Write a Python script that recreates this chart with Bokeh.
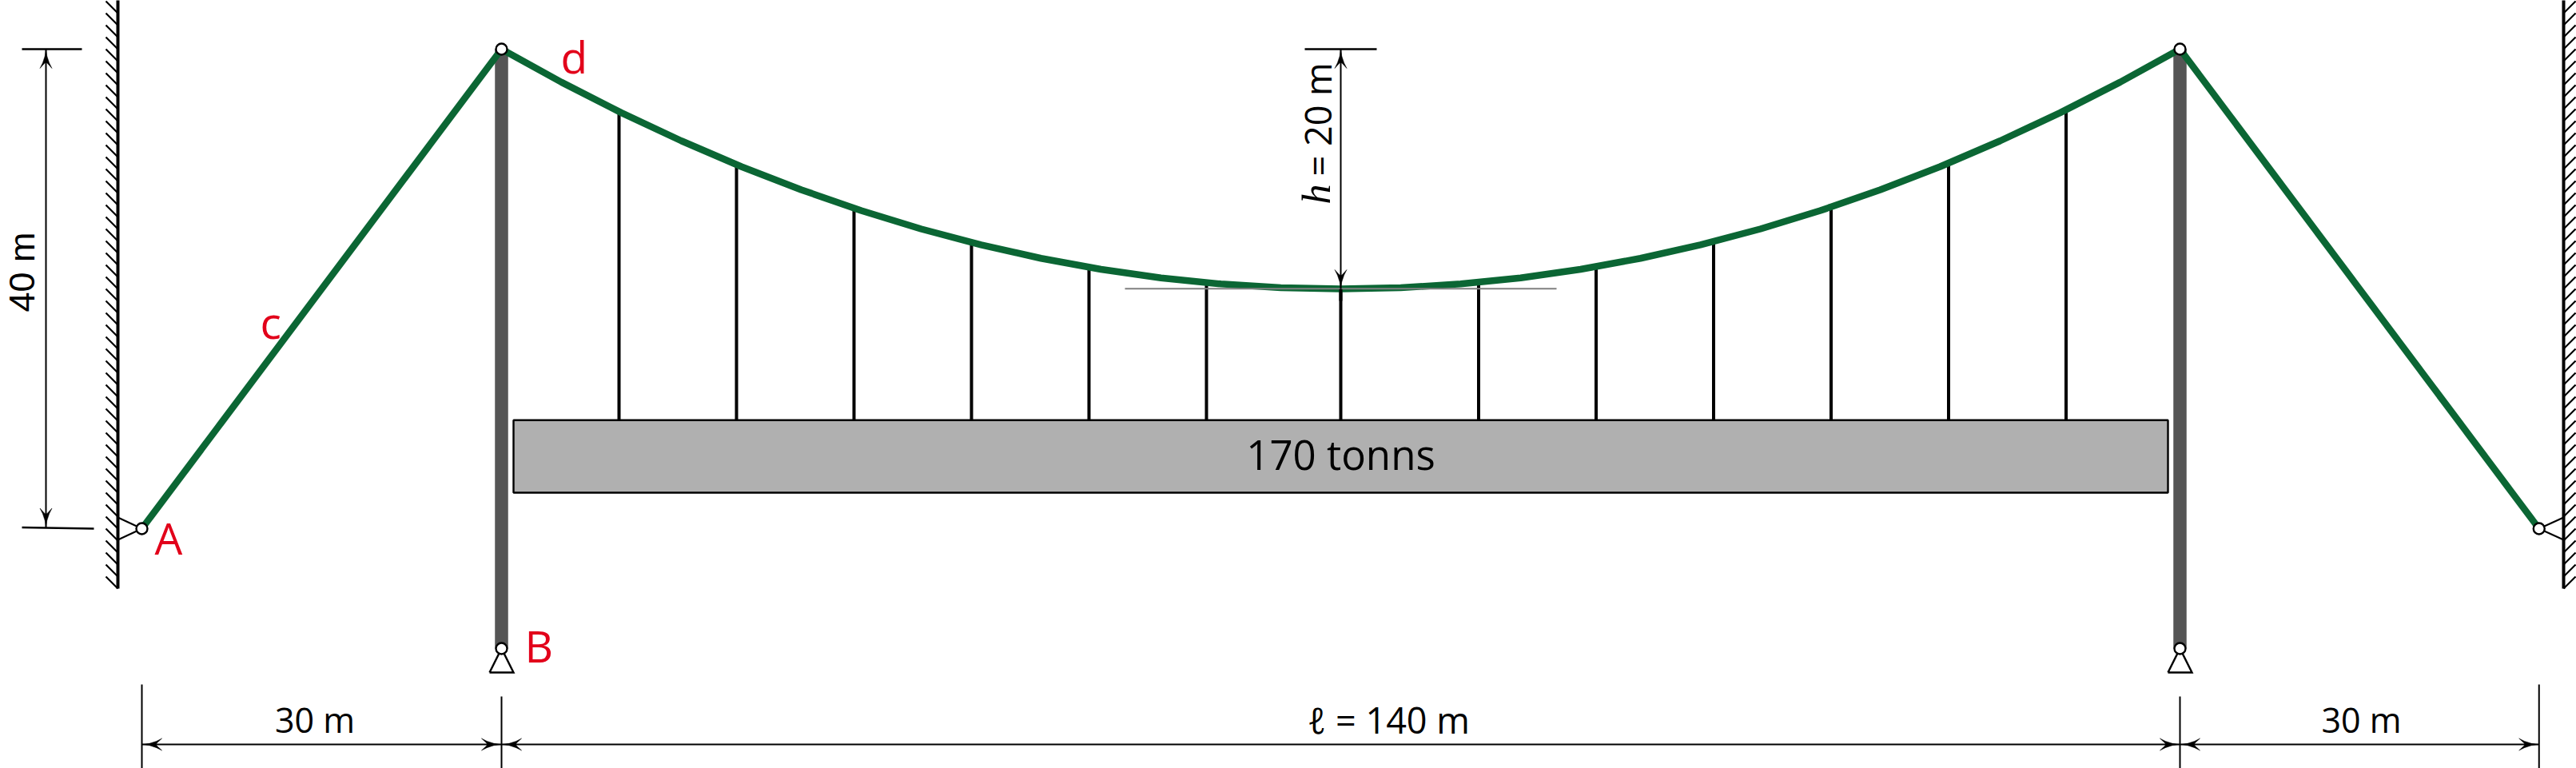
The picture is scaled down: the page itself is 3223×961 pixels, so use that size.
import math
from bokeh.plotting import figure
from bokeh.models import Range1d
from bokeh.core.properties import value
from bokeh.embed import file_html
from bokeh.resources import INLINE

# ---- data (metres; origin at anchor A) ----
cable_left_x = [0, 30]
cable_left_y = [0, 40]
cable_right_x = [170, 199.95]
cable_right_y = [40, 0]
main_x = [30, 35, 40, 45, 50, 55, 60, 65, 70, 75, 80, 85, 90, 95, 100,
          105, 110, 115, 120, 125, 130, 135, 140, 145, 150, 155, 160, 165, 170]
main_y = [40, 37.24, 34.69, 32.35, 30.20, 28.27, 26.53, 25.0, 23.67, 22.55, 21.63, 20.92, 20.41, 20.10, 20,
          20.10, 20.41, 20.92, 21.63, 22.55, 23.67, 25.0, 26.53, 28.27, 30.20, 32.35, 34.69, 37.24, 40]
hanger_x = [39.8, 49.6, 59.4, 69.2, 79, 88.8, 100, 111.5, 121.3, 131.1, 140.9, 150.7, 160.5]
hanger_top = [34.79, 30.37, 26.73, 23.87, 21.8, 20.51, 20, 20.54, 21.85, 23.95, 26.83, 30.49, 34.94]
deck_top = 9.05
deck_bottom = 3.0
deck_left = 31.0
deck_right = 169.0
tower_x = [30, 170]
tower_top = 40
tower_base = -10
wall_x = [-2, 202]
wall_bottom = -5
wall_top = 44.6
span_ticks = [0, 30, 170, 199.95]
dim_y = -18
h_dim_x = 100
h_dim_low = 20
h_dim_high = 40
height_dim_x = -8
deck_label = "170 tonns"
span_labels = ["30 m", "\u2113 = 140 m", "30 m"]

# ---- figure: 15 px per metre ----
PXM = 15.0
W, H = 3223, 961
p = figure(width=W, height=H, output_backend="svg", toolbar_location=None,
           x_range=Range1d((0 - 177) / PXM, (3223 - 177) / PXM),
           y_range=Range1d((661 - 961) / PXM, (661 - 0) / PXM),
           min_border=0, min_border_left=0, min_border_right=0,
           min_border_top=0, min_border_bottom=0)
p.xaxis.visible = False
p.yaxis.visible = False
p.grid.visible = False
p.outline_line_color = None
p.background_fill_color = "white"
p.border_fill_color = "white"

GREEN = "#0b6634"
GREY = "#555555"
RED = "#e2001a"
FONT = value("Open Sans")

def arrow_head(tip_x, tip_y, dx, dy):
    """Barbed head; (dx, dy) points towards the tip."""
    L, W_ = 24 / PXM, 7.5 / PXM
    nx, ny = -dy, dx
    shape = [(0, 0), (0.35 * L, 0.16 * W_), (0.72 * L, 0.55 * W_), (L, W_), (0.72 * L, 0.18 * W_),
             (0.72 * L, -0.18 * W_), (L, -W_), (0.72 * L, -0.55 * W_), (0.35 * L, -0.16 * W_)]
    xs = [tip_x - a * dx + b * nx for a, b in shape]
    ys = [tip_y - a * dy + b * ny for a, b in shape]
    p.patch(xs, ys, fill_color="black", line_color="black", line_width=0.5)

def line(x0, y0, x1, y1, w=2, color="black", cap="butt"):
    p.segment([x0], [y0], [x1], [y1], line_width=w, line_color=color, line_cap=cap)

# walls with hatching
for i, wx in enumerate(wall_x):
    s = -1 if i == 0 else 1
    n = int(wall_top - wall_bottom)
    p.segment([wx] * n, [wall_bottom + k for k in range(n)],
              [wx + s] * n, [wall_bottom + k + 1 for k in range(n)],
              line_width=2.2, line_color="black")
    line(wx, wall_top, wx, wall_bottom, w=4)

# wall supports
line(0, 0, -2, 0.93, 2.2)
line(0, 0, -2, -0.93, 2.2)
line(199.95, 0, 202, 0.93, 2.2)
line(199.95, 0, 202, -0.93, 2.2)

# deck
p.quad(left=[deck_left], right=[deck_right], top=[deck_top], bottom=[deck_bottom],
       fill_color="#b0b0b0", line_color="black", line_width=2.4)
# hangers
p.segment(hanger_x, hanger_top, hanger_x, [deck_top] * len(hanger_x), line_width=4, line_color="black")

# towers
for tx in tower_x:
    p.segment([tx], [tower_top], [tx], [tower_base], line_width=16.5, line_color=GREY)
    p.line([tx - 1, tx, tx + 1, tx - 1], [tower_base - 2, tower_base, tower_base - 2, tower_base - 2],
           line_width=2.4, line_color="black", line_join="miter")

# cables
for xs, ys in ((cable_left_x, cable_left_y), (cable_right_x, cable_right_y), (main_x, main_y)):
    p.line(xs, ys, line_width=8.5, line_color=GREEN, line_join="round", line_cap="butt")

# reference line under the sag
line(82, 20.02, 118, 20.02, 2, "#808080")
# central hanger sits above the reference line
line(100, 19.98, 100, 19.0, 4)

# joints
p.scatter([0, 199.95, 30, 170, 30, 170], [0, 0, 40, 40, -10, -10], size=14, marker="circle",
          fill_color="white", line_color="black", line_width=2.4)

# height dimension at left
line(height_dim_x, 40, height_dim_x, 0.1, 2)
line(-10, 40, -5, 40, 2.4)
line(-10, 0.1, -4, 0, 2.4)
arrow_head(height_dim_x, 40, 0, 1)
arrow_head(height_dim_x, 0.1, 0, -1)

# sag dimension
line(h_dim_x, h_dim_high, h_dim_x, h_dim_low, 2)
line(h_dim_x - 3, h_dim_high, h_dim_x + 3, h_dim_high, 2.4)
arrow_head(h_dim_x, h_dim_high, 0, 1)
arrow_head(h_dim_x, h_dim_low, 0, -1)

# span dimensions
for tx, top in zip(span_ticks, [-13, -14, -14, -13]):
    line(tx, top, tx, -20, 2)
for a, b in zip(span_ticks[:-1], span_ticks[1:]):
    line(a, dim_y, b, dim_y, 2.2)
    arrow_head(a + 0.07, dim_y, -1, 0)
    arrow_head(b - 0.07, dim_y, 1, 0)

K = 0.35  # distance that Bokeh's svg text sits below the requested baseline, in font sizes
def label(x_px, base_px, txt, size, color="black", angle=0.0, align="left", style="normal", font=FONT):
    s = float(size[:-2]) * K
    if angle:
        x_px -= s
    else:
        base_px -= s
    p.text([(x_px - 177) / PXM], [(661 - base_px) / PXM], text=[txt],
           text_font=font, text_font_size=size, text_color=color, angle=angle,
           text_align=align, text_baseline="alphabetic", text_font_style=style)

label(1677, 585.7, deck_label, "51px", align="center")
label(393.5, 915.5, span_labels[0], "43px", align="center")
label(1737, 915.5, span_labels[1], "45px", align="center")
label(2954, 915.5, span_labels[2], "43px", align="center")
label(43, 340, "40 m", "45px", angle=math.pi / 2, align="center", font=value("Liberation Sans"))
label(1664, 255, "h", "50px", angle=math.pi / 2, style="italic", font=value("Liberation Serif"))
label(1664, 220, "= 20 m", "45px", angle=math.pi / 2)
label(193, 691, "A", "55px", RED)
label(656, 826, "B", "55px", RED)
label(325, 421, "c", "55px", RED)
label(701, 89, "d", "55px", RED)

open("out.html", "w").write(file_html(p, INLINE))
